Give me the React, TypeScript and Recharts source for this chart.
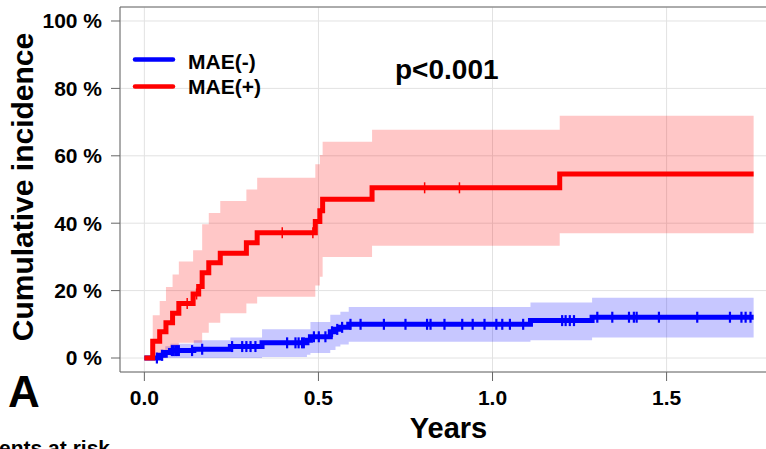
import {
  ComposedChart,
  Line,
  Area,
  Scatter,
  XAxis,
  YAxis,
  CartesianGrid,
  ReferenceLine,
} from "recharts";

const FONT = "'Liberation Sans', Arial, Helvetica, sans-serif";

// MAE(-) — step curve, CI band and censoring times (years / %)
const blueTimes = [0, 0.046, 0.06, 0.075, 0.142, 0.247, 0.338, 0.467, 0.477, 0.534, 0.549, 0.563, 0.587, 1.109, 1.286, 1.75];
const blueValues = [0, 0.8, 1.6, 2.2, 2.6, 3.4, 4.5, 5.3, 6.3, 7.8, 8.5, 9.1, 10.0, 11.1, 12.1, 12.1];
const blueLower = [0, 0, 0, 0, 0, 0, 0.3, 1.0, 1.5, 2.4, 3.4, 4.0, 4.8, 5.3, 6.1, 6.1];
const blueUpper = [0, 2.5, 3.5, 4.2, 5.3, 6.1, 8.5, 8.5, 10.7, 12.8, 12.8, 13.7, 15.1, 16.5, 17.9, 17.9];
const blueCensored = [
  0.036, 0.051, 0.079, 0.084, 0.089, 0.094, 0.099, 0.137, 0.166, 0.252, 0.281, 0.293, 0.305, 0.319,
  0.41, 0.434, 0.443, 0.453, 0.458, 0.487, 0.501, 0.52, 0.539, 0.554, 0.568, 0.592, 0.621, 0.688,
  0.75, 0.812, 0.822, 0.862, 0.913, 0.943, 0.977, 1.011, 1.028, 1.05, 1.088, 1.2, 1.21, 1.222,
  1.234, 1.301, 1.344, 1.392, 1.406, 1.414, 1.478, 1.588, 1.682, 1.715, 1.727, 1.741,
];

// MAE(+)
const redTimes = [0, 0.024, 0.044, 0.062, 0.081, 0.099, 0.14, 0.156, 0.166, 0.185, 0.218, 0.293, 0.324, 0.491, 0.504, 0.512, 0.654, 1.193, 1.75];
const redValues = [0, 5.0, 7.8, 10.5, 13.3, 16.2, 19.0, 21.2, 25.3, 28.3, 31.1, 34.2, 37.2, 40.5, 43.7, 47.1, 50.5, 54.6, 54.6];
const redLower = [0, 0, 0, 1.0, 3.5, 4.5, 4.5, 4.5, 7.5, 10.5, 13.3, 16.2, 18.2, 21.5, 24.1, 30.0, 33.3, 37.0, 37.0];
const redUpper = [0, 12.7, 16.9, 21.1, 24.8, 28.6, 32.0, 32.0, 39.7, 43.0, 46.6, 50.0, 53.5, 57.5, 60.2, 64.2, 67.7, 71.9, 71.9];
const redCensored = [0.123, 0.15, 0.396, 0.484, 0.805, 0.905];

const xTicks = [0, 0.5, 1.0, 1.5];
const yTicks = [0, 20, 40, 60, 80, 100];

const X_MIN = -0.07;
const X_MAX = 1.82;
const Y_MIN = -4.15;
const Y_MAX = 104.15;

const BLUE = "#0000ff";
const RED = "#ff0000";

const line = (times: number[], values: number[]) => times.map((t, i) => ({ t, v: values[i] }));
const band = (times: number[], lo: number[], hi: number[], start: number) =>
  times.map((t, i) => ({ t, band: [lo[i], hi[i]] })).filter((d) => d.t >= start);
const levelAt = (times: number[], values: number[], t: number) => {
  let v = values[0];
  times.forEach((tt, i) => {
    if (tt <= t) v = values[i];
  });
  return v;
};
const censor = (times: number[], values: number[], marks: number[]) =>
  marks.map((t) => ({ t, v: levelAt(times, values, t) }));

const blueLine = line(blueTimes, blueValues);
const redLine = line(redTimes, redValues);
const blueBand = band(blueTimes, blueLower, blueUpper, 0.046);
const redBand = band(redTimes, redLower, redUpper, 0.024);
const blueMarks = censor(blueTimes, blueValues, blueCensored);
const redMarks = censor(redTimes, redValues, redCensored);

const tickShape = (color: string, w: number) => (p: any) =>
  <line x1={p.cx} x2={p.cx} y1={p.cy - 5.5} y2={p.cy + 5.5} stroke={color} strokeWidth={w} />;

export default function App() {
  return (
    <div style={{ position: "absolute", left: 0, top: 0, width: 766, height: 449, overflow: "hidden", background: "#fff" }}>
      <ComposedChart width={778} height={449} margin={{ top: 7, right: 0, bottom: 0, left: 0 }}>
        <CartesianGrid stroke="#e2e2e2" strokeWidth={1} />
        <XAxis
          dataKey="t"
          type="number"
          domain={[X_MIN, X_MAX]}
          allowDataOverflow
          ticks={xTicks}
          tickFormatter={(v: number) => v.toFixed(1)}
          height={77}
          tickSize={9}
          tickMargin={9}
          stroke="#666"
          tick={{ fontSize: 21, fontWeight: 700, fill: "#000", fontFamily: FONT }}
        />
        <YAxis
          type="number"
          domain={[Y_MIN, Y_MAX]}
          allowDataOverflow
          ticks={yTicks}
          tickFormatter={(v: number) => `${v} %`}
          width={120}
          tickSize={9}
          tickMargin={9}
          stroke="#666"
          tick={{ fontSize: 21, fontWeight: 700, fill: "#000", fontFamily: FONT }}
        />
        <ReferenceLine y={Y_MAX} stroke="#666" />
        <Area data={blueBand} dataKey="band" type="stepAfter" fill={BLUE} fillOpacity={0.22} stroke="none" isAnimationActive={false} />
        <Area data={redBand} dataKey="band" type="stepAfter" fill={RED} fillOpacity={0.22} stroke="none" isAnimationActive={false} />
        <Line data={blueLine} dataKey="v" type="stepAfter" stroke={BLUE} strokeWidth={5} dot={false} isAnimationActive={false} />
        <Scatter data={blueMarks} dataKey="v" shape={tickShape(BLUE, 2.2)} isAnimationActive={false} />
        <Line data={redLine} dataKey="v" type="stepAfter" stroke={RED} strokeWidth={5} dot={false} isAnimationActive={false} />
        <Scatter data={redMarks} dataKey="v" shape={tickShape(RED, 1.5)} isAnimationActive={false} />
      </ComposedChart>
      <svg width={766} height={449} style={{ position: "absolute", left: 0, top: 0, pointerEvents: "none" }} fontFamily={FONT} fontWeight={700}>
        <line x1={135} x2={173} y1={59.5} y2={59.5} stroke={BLUE} strokeWidth={4.5} strokeLinecap="round" />
        <line x1={135} x2={173} y1={86.5} y2={86.5} stroke={RED} strokeWidth={4.5} strokeLinecap="round" />
        <text x={188} y={69} fontSize={21}>MAE(-)</text>
        <text x={188} y={94} fontSize={21}>MAE(+)</text>
        <text x={395} y={79} fontSize={28}>p&lt;0.001</text>
        <text x={8} y={407} fontSize={44}>A</text>
        <text x={448.5} y={438} fontSize={29} textAnchor="middle">Years</text>
        <text x={33} y={187} fontSize={30} textAnchor="middle" transform="rotate(-90 33 187)">Cumulative incidence</text>
        <text x={110} y={455} fontSize={21} textAnchor="end">Patients at risk</text>
      </svg>
    </div>
  );
}
